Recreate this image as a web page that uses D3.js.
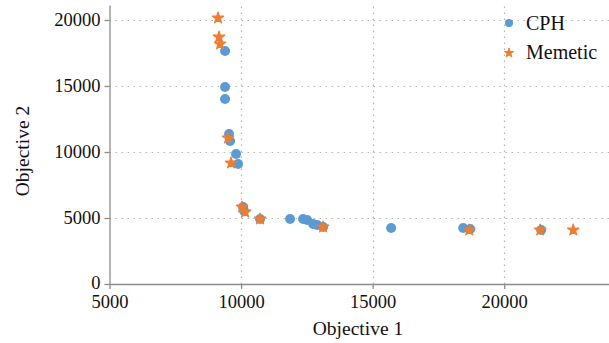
<!DOCTYPE html>
<html>
<head>
<meta charset="utf-8">
<script src="https://cdn.jsdelivr.net/npm/d3@7"></script>
<style>
  body { margin: 0; background: #fff; }
  svg text { font-family: "Liberation Serif", "DejaVu Serif", serif; fill: #111; }
</style>
</head>
<body>
<svg width="609" height="343"></svg>
<script>
// CPH points (objective 1, objective 2)
const cphX = [9391, 9391, 9391, 9543, 9581, 9810, 9886, 10076, 10114, 10722, 11862, 12357, 12509, 12737, 12889, 13117, 15702, 18440, 18706, 21405];
const cphY = [17652, 14924, 14015, 11364, 10833, 9849, 9091, 5833, 5530, 4924, 4924, 4924, 4849, 4546, 4470, 4318, 4243, 4243, 4167, 4091];
// Memetic points
const memX = [9125, 9163, 9201, 9505, 9619, 10038, 10152, 10722, 13117, 18668, 21367, 22622];
const memY = [20152, 18712, 18182, 11061, 9167, 5833, 5455, 4924, 4318, 4091, 4091, 4091];

const xTicks = [5000, 10000, 15000, 20000];
const yTicks = [0, 5000, 10000, 15000, 20000];
const seriesNames = ['CPH', 'Memetic'];
const colors = ['#5b9bd5', '#ed7d31'];

const svg = d3.select('svg');
const mLeft = 109.5, mRight = 609.5, mTop = 5, mBottom = 284;

const x = d3.scaleLinear().domain([5000, 24000]).range([mLeft, mRight]);
const y = d3.scaleLinear().domain([0, 21136]).range([mBottom, mTop]);

// grid
const grid = svg.append('g').attr('stroke', '#b4b4b4').attr('stroke-width', 1.2).attr('stroke-dasharray', '1.5,4.5');
grid.selectAll('.gx').data(xTicks.slice(1)).enter().append('line')
  .attr('x1', d => Math.round(x(d)) + 0.5).attr('x2', d => Math.round(x(d)) + 0.5)
  .attr('y1', mBottom).attr('y2', mTop);
grid.selectAll('.gy').data(yTicks.slice(1)).enter().append('line')
  .attr('y1', d => Math.round(y(d)) + 0.5).attr('y2', d => Math.round(y(d)) + 0.5)
  .attr('x1', mLeft).attr('x2', mRight);

// axes
const xAxis = d3.axisBottom(x).tickValues(xTicks).tickFormat(d3.format('d')).tickSizeInner(5).tickSizeOuter(0).tickPadding(6);
const yAxis = d3.axisLeft(y).tickValues(yTicks).tickFormat(d3.format('d')).tickSizeInner(5).tickSizeOuter(0).tickPadding(4);

const gx = svg.append('g').attr('transform', `translate(0,${mBottom})`).call(xAxis);
const gy = svg.append('g').attr('transform', `translate(${mLeft},0)`).call(yAxis);
[gx, gy].forEach(g => {
  g.select('.domain').attr('stroke', '#8c8c8c').attr('stroke-width', 1.3);
  g.selectAll('.tick line').attr('stroke', '#8c8c8c').attr('stroke-width', 1.3);
  g.selectAll('.tick text').attr('font-size', 18.5).attr('font-family', '"Liberation Serif", serif').attr('fill', '#111');
});
gy.selectAll('.tick text').filter(d => d === 0).attr('dy', '0.25em');

svg.append('text').attr('x', 358).attr('y', 335).attr('text-anchor', 'middle')
  .attr('font-size', 19.5).text('Objective 1');
svg.append('text').attr('transform', 'translate(29,151) rotate(-90)').attr('text-anchor', 'middle')
  .attr('font-size', 19.5).text('Objective 2');

// marks
const star = d3.symbol().type(d3.symbolStar).size(40);
svg.append('g').selectAll('circle').data(d3.zip(cphX, cphY)).enter().append('circle')
  .attr('cx', d => x(d[0])).attr('cy', d => y(d[1])).attr('r', 5)
  .attr('fill', colors[0]);
svg.append('g').selectAll('path').data(d3.zip(memX, memY)).enter().append('path')
  .attr('d', star).attr('transform', d => `translate(${x(d[0])},${y(d[1])})`)
  .attr('fill', colors[1]).attr('stroke', colors[1]).attr('stroke-width', 1.2).attr('stroke-linejoin', 'round');

// legend
const lg = svg.append('g');
const legStar = d3.symbol().type(d3.symbolStar).size(28);
lg.append('circle').attr('cx', 509).attr('cy', 23).attr('r', 4).attr('fill', colors[0]);
lg.append('path').attr('d', legStar).attr('transform', 'translate(509,53)')
  .attr('fill', colors[1]).attr('stroke', colors[1]).attr('stroke-width', 1).attr('stroke-linejoin', 'round');
lg.selectAll('text').data(seriesNames).enter().append('text')
  .attr('x', 526).attr('y', (d, i) => 23 + i * 29).attr('dy', '0.35em')
  .attr('font-size', 20).text(d => d);
</script>
</body>
</html>
